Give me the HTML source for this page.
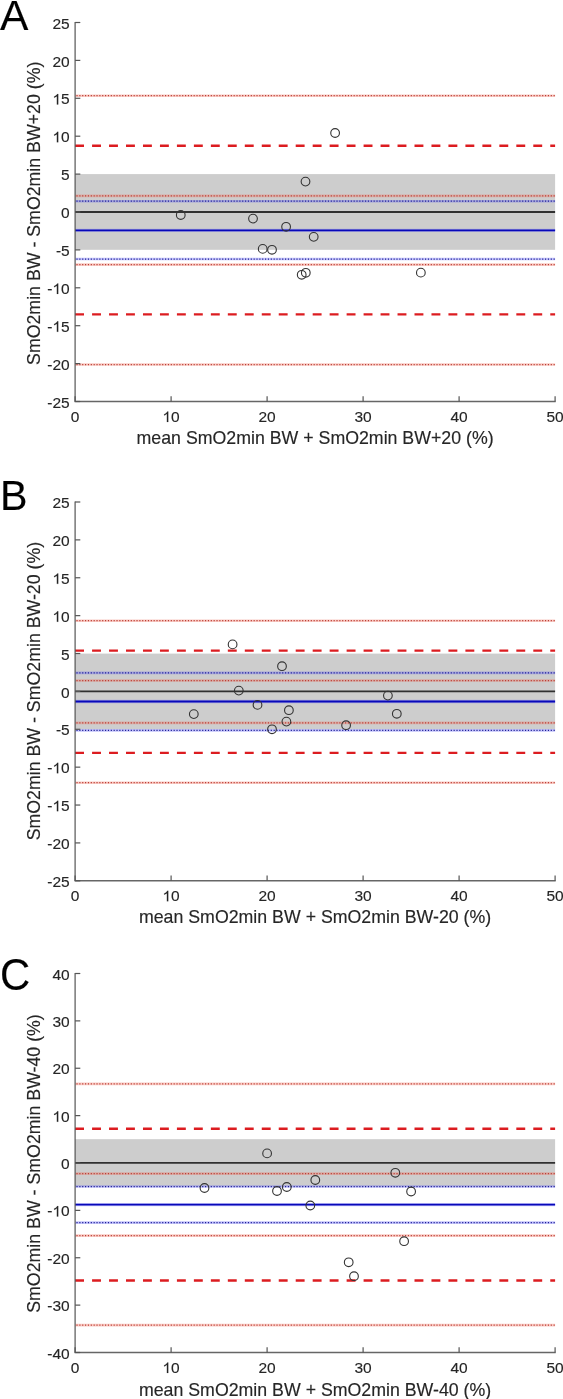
<!DOCTYPE html>
<html><head><meta charset="utf-8"><style>
html,body{margin:0;padding:0;background:#fff;}
svg{display:block;will-change:transform;}
text{font-family:"Liberation Sans",sans-serif;fill:#262626;stroke:#262626;stroke-width:0.15px;}
</style></head><body>
<svg width="563" height="1399" viewBox="0 0 563 1399">
<rect width="563" height="1399" fill="#fff"/>
<rect x="75.1" y="174.10" width="480.00" height="75.70" fill="#cdcdcd"/>
<line x1="75.1" x2="555.1" y1="95.7" y2="95.7" stroke="rgb(240,110,95)" stroke-opacity="0.36" stroke-width="2.6"/>
<line x1="75.1" x2="555.1" y1="95.7" y2="95.7" stroke="rgb(185,62,52)" stroke-width="1.25" stroke-dasharray="1.15 1.707" stroke-dashoffset="1.5"/>
<line x1="75.1" x2="555.1" y1="195.9" y2="195.9" stroke="rgb(240,110,95)" stroke-opacity="0.36" stroke-width="2.6"/>
<line x1="75.1" x2="555.1" y1="195.9" y2="195.9" stroke="rgb(185,62,52)" stroke-width="1.25" stroke-dasharray="1.15 1.707" stroke-dashoffset="1.5"/>
<line x1="75.1" x2="555.1" y1="264.6" y2="264.6" stroke="rgb(240,110,95)" stroke-opacity="0.36" stroke-width="2.6"/>
<line x1="75.1" x2="555.1" y1="264.6" y2="264.6" stroke="rgb(185,62,52)" stroke-width="1.25" stroke-dasharray="1.15 1.707" stroke-dashoffset="1.5"/>
<line x1="75.1" x2="555.1" y1="364.5" y2="364.5" stroke="rgb(240,110,95)" stroke-opacity="0.36" stroke-width="2.6"/>
<line x1="75.1" x2="555.1" y1="364.5" y2="364.5" stroke="rgb(185,62,52)" stroke-width="1.25" stroke-dasharray="1.15 1.707" stroke-dashoffset="1.5"/>
<line x1="75.1" x2="555.1" y1="201.2" y2="201.2" stroke="rgb(95,95,245)" stroke-opacity="0.36" stroke-width="2.6"/>
<line x1="75.1" x2="555.1" y1="201.2" y2="201.2" stroke="rgb(30,30,150)" stroke-width="1.25" stroke-dasharray="1.15 1.707" stroke-dashoffset="1.5"/>
<line x1="75.1" x2="555.1" y1="259.0" y2="259.0" stroke="rgb(95,95,245)" stroke-opacity="0.36" stroke-width="2.6"/>
<line x1="75.1" x2="555.1" y1="259.0" y2="259.0" stroke="rgb(30,30,150)" stroke-width="1.25" stroke-dasharray="1.15 1.707" stroke-dashoffset="1.5"/>
<line x1="75.1" x2="555.1" y1="212.0" y2="212.0" stroke="#303030" stroke-width="1.8"/>
<line x1="75.1" x2="555.1" y1="230.4" y2="230.4" stroke="rgb(110,110,255)" stroke-opacity="0.35" stroke-width="3.4"/>
<line x1="75.1" x2="555.1" y1="230.4" y2="230.4" stroke="rgb(8,8,185)" stroke-width="1.9"/>
<line x1="75.1" x2="555.1" y1="145.8" y2="145.8" stroke="rgb(220,28,32)" stroke-width="2.4" stroke-dasharray="8.9 8.07"/>
<line x1="75.1" x2="555.1" y1="314.4" y2="314.4" stroke="rgb(220,28,32)" stroke-width="2.4" stroke-dasharray="8.9 8.07"/>
<circle cx="180.75" cy="215.0" r="4.35" fill="none" stroke="#333" stroke-width="1.1"/>
<circle cx="253.0" cy="218.6" r="4.35" fill="none" stroke="#333" stroke-width="1.1"/>
<circle cx="286.1" cy="226.8" r="4.35" fill="none" stroke="#333" stroke-width="1.1"/>
<circle cx="313.7" cy="236.85" r="4.35" fill="none" stroke="#333" stroke-width="1.1"/>
<circle cx="262.7" cy="248.9" r="4.35" fill="none" stroke="#333" stroke-width="1.1"/>
<circle cx="272.0" cy="249.8" r="4.35" fill="none" stroke="#333" stroke-width="1.1"/>
<circle cx="301.7" cy="274.8" r="4.35" fill="none" stroke="#333" stroke-width="1.1"/>
<circle cx="305.8" cy="272.8" r="4.35" fill="none" stroke="#333" stroke-width="1.1"/>
<circle cx="420.85" cy="272.65" r="4.35" fill="none" stroke="#333" stroke-width="1.1"/>
<circle cx="335.1" cy="133.0" r="4.35" fill="none" stroke="#333" stroke-width="1.1"/>
<circle cx="305.5" cy="181.6" r="4.35" fill="none" stroke="#333" stroke-width="1.1"/>
<line x1="75.1" x2="75.1" y1="21.9" y2="401.5" stroke="#555" stroke-width="1.2"/>
<line x1="74.5" x2="555.7" y1="401.5" y2="401.5" stroke="#666" stroke-width="1.4"/>
<line x1="75.1" x2="80.3" y1="22.50" y2="22.50" stroke="#555" stroke-width="1.2"/>
<text x="52.46" y="28.60" font-size="15.5">25</text>
<line x1="75.1" x2="80.3" y1="60.40" y2="60.40" stroke="#555" stroke-width="1.2"/>
<text x="52.46" y="66.50" font-size="15.5">20</text>
<line x1="75.1" x2="80.3" y1="98.30" y2="98.30" stroke="#555" stroke-width="1.2"/>
<text x="52.46" y="104.40" font-size="15.5"> 5</text>
<path transform="translate(52.46 104.40) scale(0.007568 -0.007114)" d="M763 0L583 0L583 1147Q518 1085 412.5 1023Q307 961 223 930L223 1104Q374 1175 486.5 1276Q599 1377 646 1466L763 1466Z" fill="#262626" stroke="#262626" stroke-width="19.8"/>
<line x1="75.1" x2="80.3" y1="136.20" y2="136.20" stroke="#555" stroke-width="1.2"/>
<text x="52.46" y="142.30" font-size="15.5"> 0</text>
<path transform="translate(52.46 142.30) scale(0.007568 -0.007114)" d="M763 0L583 0L583 1147Q518 1085 412.5 1023Q307 961 223 930L223 1104Q374 1175 486.5 1276Q599 1377 646 1466L763 1466Z" fill="#262626" stroke="#262626" stroke-width="19.8"/>
<line x1="75.1" x2="80.3" y1="174.10" y2="174.10" stroke="#555" stroke-width="1.2"/>
<text x="61.08" y="180.20" font-size="15.5">5</text>
<line x1="75.1" x2="80.3" y1="212.00" y2="212.00" stroke="#555" stroke-width="1.2"/>
<text x="61.08" y="218.10" font-size="15.5">0</text>
<line x1="75.1" x2="80.3" y1="249.90" y2="249.90" stroke="#555" stroke-width="1.2"/>
<text x="55.92" y="256.00" font-size="15.5">-5</text>
<line x1="75.1" x2="80.3" y1="287.80" y2="287.80" stroke="#555" stroke-width="1.2"/>
<text x="47.30" y="293.90" font-size="15.5">- 0</text>
<path transform="translate(52.46 293.90) scale(0.007568 -0.007114)" d="M763 0L583 0L583 1147Q518 1085 412.5 1023Q307 961 223 930L223 1104Q374 1175 486.5 1276Q599 1377 646 1466L763 1466Z" fill="#262626" stroke="#262626" stroke-width="19.8"/>
<line x1="75.1" x2="80.3" y1="325.70" y2="325.70" stroke="#555" stroke-width="1.2"/>
<text x="47.30" y="331.80" font-size="15.5">- 5</text>
<path transform="translate(52.46 331.80) scale(0.007568 -0.007114)" d="M763 0L583 0L583 1147Q518 1085 412.5 1023Q307 961 223 930L223 1104Q374 1175 486.5 1276Q599 1377 646 1466L763 1466Z" fill="#262626" stroke="#262626" stroke-width="19.8"/>
<line x1="75.1" x2="80.3" y1="363.60" y2="363.60" stroke="#555" stroke-width="1.2"/>
<text x="47.30" y="369.70" font-size="15.5">-20</text>
<line x1="75.1" x2="80.3" y1="401.50" y2="401.50" stroke="#555" stroke-width="1.2"/>
<text x="47.30" y="407.60" font-size="15.5">-25</text>
<line x1="75.10" x2="75.10" y1="401.5" y2="396.2" stroke="#555" stroke-width="1.2"/>
<text x="70.79" y="422.00" font-size="15.5">0</text>
<line x1="171.10" x2="171.10" y1="401.5" y2="396.2" stroke="#555" stroke-width="1.2"/>
<text x="162.48" y="422.00" font-size="15.5"> 0</text>
<path transform="translate(162.48 422.00) scale(0.007568 -0.007114)" d="M763 0L583 0L583 1147Q518 1085 412.5 1023Q307 961 223 930L223 1104Q374 1175 486.5 1276Q599 1377 646 1466L763 1466Z" fill="#262626" stroke="#262626" stroke-width="19.8"/>
<line x1="267.10" x2="267.10" y1="401.5" y2="396.2" stroke="#555" stroke-width="1.2"/>
<text x="258.48" y="422.00" font-size="15.5">20</text>
<line x1="363.10" x2="363.10" y1="401.5" y2="396.2" stroke="#555" stroke-width="1.2"/>
<text x="354.48" y="422.00" font-size="15.5">30</text>
<line x1="459.10" x2="459.10" y1="401.5" y2="396.2" stroke="#555" stroke-width="1.2"/>
<text x="450.48" y="422.00" font-size="15.5">40</text>
<line x1="555.10" x2="555.10" y1="401.5" y2="396.2" stroke="#555" stroke-width="1.2"/>
<text x="546.48" y="422.00" font-size="15.5">50</text>
<text x="315.10" y="444.40" text-anchor="middle" font-size="17.75">mean SmO2min BW + SmO2min BW+20 (%)</text>
<text transform="translate(40.2 213.30) rotate(-90)" text-anchor="middle" font-size="17.75">SmO2min BW - SmO2min BW+20 (%)</text>
<text transform="translate(0 29.6) scale(0.99 1.0)" font-size="43" style="fill:#000">A</text>
<rect x="75.1" y="653.60" width="480.00" height="75.60" fill="#cdcdcd"/>
<line x1="75.1" x2="555.1" y1="620.7" y2="620.7" stroke="rgb(240,110,95)" stroke-opacity="0.36" stroke-width="2.6"/>
<line x1="75.1" x2="555.1" y1="620.7" y2="620.7" stroke="rgb(185,62,52)" stroke-width="1.25" stroke-dasharray="1.15 1.707" stroke-dashoffset="1.5"/>
<line x1="75.1" x2="555.1" y1="680.55" y2="680.55" stroke="rgb(240,110,95)" stroke-opacity="0.36" stroke-width="2.6"/>
<line x1="75.1" x2="555.1" y1="680.55" y2="680.55" stroke="rgb(185,62,52)" stroke-width="1.25" stroke-dasharray="1.15 1.707" stroke-dashoffset="1.5"/>
<line x1="75.1" x2="555.1" y1="722.9" y2="722.9" stroke="rgb(240,110,95)" stroke-opacity="0.36" stroke-width="2.6"/>
<line x1="75.1" x2="555.1" y1="722.9" y2="722.9" stroke="rgb(185,62,52)" stroke-width="1.25" stroke-dasharray="1.15 1.707" stroke-dashoffset="1.5"/>
<line x1="75.1" x2="555.1" y1="782.7" y2="782.7" stroke="rgb(240,110,95)" stroke-opacity="0.36" stroke-width="2.6"/>
<line x1="75.1" x2="555.1" y1="782.7" y2="782.7" stroke="rgb(185,62,52)" stroke-width="1.25" stroke-dasharray="1.15 1.707" stroke-dashoffset="1.5"/>
<line x1="75.1" x2="555.1" y1="672.9" y2="672.9" stroke="rgb(95,95,245)" stroke-opacity="0.36" stroke-width="2.6"/>
<line x1="75.1" x2="555.1" y1="672.9" y2="672.9" stroke="rgb(30,30,150)" stroke-width="1.25" stroke-dasharray="1.15 1.707" stroke-dashoffset="1.5"/>
<line x1="75.1" x2="555.1" y1="730.4" y2="730.4" stroke="rgb(95,95,245)" stroke-opacity="0.36" stroke-width="2.6"/>
<line x1="75.1" x2="555.1" y1="730.4" y2="730.4" stroke="rgb(30,30,150)" stroke-width="1.25" stroke-dasharray="1.15 1.707" stroke-dashoffset="1.5"/>
<line x1="75.1" x2="555.1" y1="691.4" y2="691.4" stroke="#303030" stroke-width="1.8"/>
<line x1="75.1" x2="555.1" y1="701.5" y2="701.5" stroke="rgb(110,110,255)" stroke-opacity="0.35" stroke-width="3.4"/>
<line x1="75.1" x2="555.1" y1="701.5" y2="701.5" stroke="rgb(8,8,185)" stroke-width="1.9"/>
<line x1="75.1" x2="555.1" y1="650.6" y2="650.6" stroke="rgb(220,28,32)" stroke-width="2.4" stroke-dasharray="8.9 8.07"/>
<line x1="75.1" x2="555.1" y1="752.9" y2="752.9" stroke="rgb(220,28,32)" stroke-width="2.4" stroke-dasharray="8.9 8.07"/>
<circle cx="232.6" cy="644.4" r="4.35" fill="none" stroke="#333" stroke-width="1.1"/>
<circle cx="282.0" cy="666.2" r="4.35" fill="none" stroke="#333" stroke-width="1.1"/>
<circle cx="238.8" cy="690.6" r="4.35" fill="none" stroke="#333" stroke-width="1.1"/>
<circle cx="193.8" cy="714.1" r="4.35" fill="none" stroke="#333" stroke-width="1.1"/>
<circle cx="257.5" cy="704.9" r="4.35" fill="none" stroke="#333" stroke-width="1.1"/>
<circle cx="288.9" cy="710.2" r="4.35" fill="none" stroke="#333" stroke-width="1.1"/>
<circle cx="286.4" cy="721.6" r="4.35" fill="none" stroke="#333" stroke-width="1.1"/>
<circle cx="272.0" cy="729.3" r="4.35" fill="none" stroke="#333" stroke-width="1.1"/>
<circle cx="346.1" cy="725.2" r="4.35" fill="none" stroke="#333" stroke-width="1.1"/>
<circle cx="387.9" cy="695.6" r="4.35" fill="none" stroke="#333" stroke-width="1.1"/>
<circle cx="396.8" cy="713.8" r="4.35" fill="none" stroke="#333" stroke-width="1.1"/>
<line x1="75.1" x2="75.1" y1="501.4" y2="880.8" stroke="#555" stroke-width="1.2"/>
<line x1="74.5" x2="555.7" y1="880.8" y2="880.8" stroke="#666" stroke-width="1.4"/>
<line x1="75.1" x2="80.3" y1="502.00" y2="502.00" stroke="#555" stroke-width="1.2"/>
<text x="52.46" y="508.10" font-size="15.5">25</text>
<line x1="75.1" x2="80.3" y1="539.88" y2="539.88" stroke="#555" stroke-width="1.2"/>
<text x="52.46" y="545.98" font-size="15.5">20</text>
<line x1="75.1" x2="80.3" y1="577.76" y2="577.76" stroke="#555" stroke-width="1.2"/>
<text x="52.46" y="583.86" font-size="15.5"> 5</text>
<path transform="translate(52.46 583.86) scale(0.007568 -0.007114)" d="M763 0L583 0L583 1147Q518 1085 412.5 1023Q307 961 223 930L223 1104Q374 1175 486.5 1276Q599 1377 646 1466L763 1466Z" fill="#262626" stroke="#262626" stroke-width="19.8"/>
<line x1="75.1" x2="80.3" y1="615.64" y2="615.64" stroke="#555" stroke-width="1.2"/>
<text x="52.46" y="621.74" font-size="15.5"> 0</text>
<path transform="translate(52.46 621.74) scale(0.007568 -0.007114)" d="M763 0L583 0L583 1147Q518 1085 412.5 1023Q307 961 223 930L223 1104Q374 1175 486.5 1276Q599 1377 646 1466L763 1466Z" fill="#262626" stroke="#262626" stroke-width="19.8"/>
<line x1="75.1" x2="80.3" y1="653.52" y2="653.52" stroke="#555" stroke-width="1.2"/>
<text x="61.08" y="659.62" font-size="15.5">5</text>
<line x1="75.1" x2="80.3" y1="691.40" y2="691.40" stroke="#555" stroke-width="1.2"/>
<text x="61.08" y="697.50" font-size="15.5">0</text>
<line x1="75.1" x2="80.3" y1="729.28" y2="729.28" stroke="#555" stroke-width="1.2"/>
<text x="55.92" y="735.38" font-size="15.5">-5</text>
<line x1="75.1" x2="80.3" y1="767.16" y2="767.16" stroke="#555" stroke-width="1.2"/>
<text x="47.30" y="773.26" font-size="15.5">- 0</text>
<path transform="translate(52.46 773.26) scale(0.007568 -0.007114)" d="M763 0L583 0L583 1147Q518 1085 412.5 1023Q307 961 223 930L223 1104Q374 1175 486.5 1276Q599 1377 646 1466L763 1466Z" fill="#262626" stroke="#262626" stroke-width="19.8"/>
<line x1="75.1" x2="80.3" y1="805.04" y2="805.04" stroke="#555" stroke-width="1.2"/>
<text x="47.30" y="811.14" font-size="15.5">- 5</text>
<path transform="translate(52.46 811.14) scale(0.007568 -0.007114)" d="M763 0L583 0L583 1147Q518 1085 412.5 1023Q307 961 223 930L223 1104Q374 1175 486.5 1276Q599 1377 646 1466L763 1466Z" fill="#262626" stroke="#262626" stroke-width="19.8"/>
<line x1="75.1" x2="80.3" y1="842.92" y2="842.92" stroke="#555" stroke-width="1.2"/>
<text x="47.30" y="849.02" font-size="15.5">-20</text>
<line x1="75.1" x2="80.3" y1="880.80" y2="880.80" stroke="#555" stroke-width="1.2"/>
<text x="47.30" y="886.90" font-size="15.5">-25</text>
<line x1="75.10" x2="75.10" y1="880.8" y2="875.5" stroke="#555" stroke-width="1.2"/>
<text x="70.79" y="901.30" font-size="15.5">0</text>
<line x1="171.10" x2="171.10" y1="880.8" y2="875.5" stroke="#555" stroke-width="1.2"/>
<text x="162.48" y="901.30" font-size="15.5"> 0</text>
<path transform="translate(162.48 901.30) scale(0.007568 -0.007114)" d="M763 0L583 0L583 1147Q518 1085 412.5 1023Q307 961 223 930L223 1104Q374 1175 486.5 1276Q599 1377 646 1466L763 1466Z" fill="#262626" stroke="#262626" stroke-width="19.8"/>
<line x1="267.10" x2="267.10" y1="880.8" y2="875.5" stroke="#555" stroke-width="1.2"/>
<text x="258.48" y="901.30" font-size="15.5">20</text>
<line x1="363.10" x2="363.10" y1="880.8" y2="875.5" stroke="#555" stroke-width="1.2"/>
<text x="354.48" y="901.30" font-size="15.5">30</text>
<line x1="459.10" x2="459.10" y1="880.8" y2="875.5" stroke="#555" stroke-width="1.2"/>
<text x="450.48" y="901.30" font-size="15.5">40</text>
<line x1="555.10" x2="555.10" y1="880.8" y2="875.5" stroke="#555" stroke-width="1.2"/>
<text x="546.48" y="901.30" font-size="15.5">50</text>
<text x="315.10" y="922.70" text-anchor="middle" font-size="17.75">mean SmO2min BW + SmO2min BW-20 (%)</text>
<text transform="translate(40.2 691.10) rotate(-90)" text-anchor="middle" font-size="17.75">SmO2min BW - SmO2min BW-20 (%)</text>
<text transform="translate(0 509.8) scale(0.96 1.0)" font-size="43" style="fill:#000">B</text>
<rect x="75.1" y="1139.20" width="480.00" height="47.30" fill="#cdcdcd"/>
<line x1="75.1" x2="555.1" y1="1083.9" y2="1083.9" stroke="rgb(240,110,95)" stroke-opacity="0.36" stroke-width="2.6"/>
<line x1="75.1" x2="555.1" y1="1083.9" y2="1083.9" stroke="rgb(185,62,52)" stroke-width="1.25" stroke-dasharray="1.15 1.707" stroke-dashoffset="1.5"/>
<line x1="75.1" x2="555.1" y1="1173.6" y2="1173.6" stroke="rgb(240,110,95)" stroke-opacity="0.36" stroke-width="2.6"/>
<line x1="75.1" x2="555.1" y1="1173.6" y2="1173.6" stroke="rgb(185,62,52)" stroke-width="1.25" stroke-dasharray="1.15 1.707" stroke-dashoffset="1.5"/>
<line x1="75.1" x2="555.1" y1="1235.6" y2="1235.6" stroke="rgb(240,110,95)" stroke-opacity="0.36" stroke-width="2.6"/>
<line x1="75.1" x2="555.1" y1="1235.6" y2="1235.6" stroke="rgb(185,62,52)" stroke-width="1.25" stroke-dasharray="1.15 1.707" stroke-dashoffset="1.5"/>
<line x1="75.1" x2="555.1" y1="1325.1" y2="1325.1" stroke="rgb(240,110,95)" stroke-opacity="0.36" stroke-width="2.6"/>
<line x1="75.1" x2="555.1" y1="1325.1" y2="1325.1" stroke="rgb(185,62,52)" stroke-width="1.25" stroke-dasharray="1.15 1.707" stroke-dashoffset="1.5"/>
<line x1="75.1" x2="555.1" y1="1186.5" y2="1186.5" stroke="rgb(95,95,245)" stroke-opacity="0.36" stroke-width="2.6"/>
<line x1="75.1" x2="555.1" y1="1186.5" y2="1186.5" stroke="rgb(30,30,150)" stroke-width="1.25" stroke-dasharray="1.15 1.707" stroke-dashoffset="1.5"/>
<line x1="75.1" x2="555.1" y1="1222.6" y2="1222.6" stroke="rgb(95,95,245)" stroke-opacity="0.36" stroke-width="2.6"/>
<line x1="75.1" x2="555.1" y1="1222.6" y2="1222.6" stroke="rgb(30,30,150)" stroke-width="1.25" stroke-dasharray="1.15 1.707" stroke-dashoffset="1.5"/>
<line x1="75.1" x2="555.1" y1="1162.9" y2="1162.9" stroke="#303030" stroke-width="1.8"/>
<line x1="75.1" x2="555.1" y1="1204.6" y2="1204.6" stroke="rgb(110,110,255)" stroke-opacity="0.35" stroke-width="3.4"/>
<line x1="75.1" x2="555.1" y1="1204.6" y2="1204.6" stroke="rgb(8,8,185)" stroke-width="1.9"/>
<line x1="75.1" x2="555.1" y1="1128.75" y2="1128.75" stroke="rgb(220,28,32)" stroke-width="2.4" stroke-dasharray="8.9 8.07"/>
<line x1="75.1" x2="555.1" y1="1280.5" y2="1280.5" stroke="rgb(220,28,32)" stroke-width="2.4" stroke-dasharray="8.9 8.07"/>
<circle cx="267.1" cy="1153.4" r="4.35" fill="none" stroke="#333" stroke-width="1.1"/>
<circle cx="204.5" cy="1188.0" r="4.35" fill="none" stroke="#333" stroke-width="1.1"/>
<circle cx="277.0" cy="1191.0" r="4.35" fill="none" stroke="#333" stroke-width="1.1"/>
<circle cx="286.8" cy="1187.0" r="4.35" fill="none" stroke="#333" stroke-width="1.1"/>
<circle cx="315.3" cy="1180.0" r="4.35" fill="none" stroke="#333" stroke-width="1.1"/>
<circle cx="310.3" cy="1205.5" r="4.35" fill="none" stroke="#333" stroke-width="1.1"/>
<circle cx="395.3" cy="1172.8" r="4.35" fill="none" stroke="#333" stroke-width="1.1"/>
<circle cx="411.1" cy="1191.5" r="4.35" fill="none" stroke="#333" stroke-width="1.1"/>
<circle cx="404.1" cy="1241.2" r="4.35" fill="none" stroke="#333" stroke-width="1.1"/>
<circle cx="348.7" cy="1262.3" r="4.35" fill="none" stroke="#333" stroke-width="1.1"/>
<circle cx="354.0" cy="1276.2" r="4.35" fill="none" stroke="#333" stroke-width="1.1"/>
<line x1="75.1" x2="75.1" y1="972.9" y2="1352.5" stroke="#555" stroke-width="1.2"/>
<line x1="74.5" x2="555.7" y1="1352.5" y2="1352.5" stroke="#666" stroke-width="1.4"/>
<line x1="75.1" x2="80.3" y1="973.50" y2="973.50" stroke="#555" stroke-width="1.2"/>
<text x="52.46" y="979.60" font-size="15.5">40</text>
<line x1="75.1" x2="80.3" y1="1020.88" y2="1020.88" stroke="#555" stroke-width="1.2"/>
<text x="52.46" y="1026.97" font-size="15.5">30</text>
<line x1="75.1" x2="80.3" y1="1068.25" y2="1068.25" stroke="#555" stroke-width="1.2"/>
<text x="52.46" y="1074.35" font-size="15.5">20</text>
<line x1="75.1" x2="80.3" y1="1115.62" y2="1115.62" stroke="#555" stroke-width="1.2"/>
<text x="52.46" y="1121.72" font-size="15.5"> 0</text>
<path transform="translate(52.46 1121.72) scale(0.007568 -0.007114)" d="M763 0L583 0L583 1147Q518 1085 412.5 1023Q307 961 223 930L223 1104Q374 1175 486.5 1276Q599 1377 646 1466L763 1466Z" fill="#262626" stroke="#262626" stroke-width="19.8"/>
<line x1="75.1" x2="80.3" y1="1163.00" y2="1163.00" stroke="#555" stroke-width="1.2"/>
<text x="61.08" y="1169.10" font-size="15.5">0</text>
<line x1="75.1" x2="80.3" y1="1210.38" y2="1210.38" stroke="#555" stroke-width="1.2"/>
<text x="47.30" y="1216.47" font-size="15.5">- 0</text>
<path transform="translate(52.46 1216.47) scale(0.007568 -0.007114)" d="M763 0L583 0L583 1147Q518 1085 412.5 1023Q307 961 223 930L223 1104Q374 1175 486.5 1276Q599 1377 646 1466L763 1466Z" fill="#262626" stroke="#262626" stroke-width="19.8"/>
<line x1="75.1" x2="80.3" y1="1257.75" y2="1257.75" stroke="#555" stroke-width="1.2"/>
<text x="47.30" y="1263.85" font-size="15.5">-20</text>
<line x1="75.1" x2="80.3" y1="1305.12" y2="1305.12" stroke="#555" stroke-width="1.2"/>
<text x="47.30" y="1311.22" font-size="15.5">-30</text>
<line x1="75.1" x2="80.3" y1="1352.50" y2="1352.50" stroke="#555" stroke-width="1.2"/>
<text x="47.30" y="1358.60" font-size="15.5">-40</text>
<line x1="75.10" x2="75.10" y1="1352.5" y2="1347.2" stroke="#555" stroke-width="1.2"/>
<text x="70.79" y="1373.00" font-size="15.5">0</text>
<line x1="171.10" x2="171.10" y1="1352.5" y2="1347.2" stroke="#555" stroke-width="1.2"/>
<text x="162.48" y="1373.00" font-size="15.5"> 0</text>
<path transform="translate(162.48 1373.00) scale(0.007568 -0.007114)" d="M763 0L583 0L583 1147Q518 1085 412.5 1023Q307 961 223 930L223 1104Q374 1175 486.5 1276Q599 1377 646 1466L763 1466Z" fill="#262626" stroke="#262626" stroke-width="19.8"/>
<line x1="267.10" x2="267.10" y1="1352.5" y2="1347.2" stroke="#555" stroke-width="1.2"/>
<text x="258.48" y="1373.00" font-size="15.5">20</text>
<line x1="363.10" x2="363.10" y1="1352.5" y2="1347.2" stroke="#555" stroke-width="1.2"/>
<text x="354.48" y="1373.00" font-size="15.5">30</text>
<line x1="459.10" x2="459.10" y1="1352.5" y2="1347.2" stroke="#555" stroke-width="1.2"/>
<text x="450.48" y="1373.00" font-size="15.5">40</text>
<line x1="555.10" x2="555.10" y1="1352.5" y2="1347.2" stroke="#555" stroke-width="1.2"/>
<text x="546.48" y="1373.00" font-size="15.5">50</text>
<text x="315.10" y="1395.70" text-anchor="middle" font-size="17.75">mean SmO2min BW + SmO2min BW-40 (%)</text>
<text transform="translate(40.2 1163.50) rotate(-90)" text-anchor="middle" font-size="17.75">SmO2min BW - SmO2min BW-40 (%)</text>
<text transform="translate(0 990.0) scale(0.975 1.04)" font-size="43" style="fill:#000">C</text>
</svg>
</body></html>
